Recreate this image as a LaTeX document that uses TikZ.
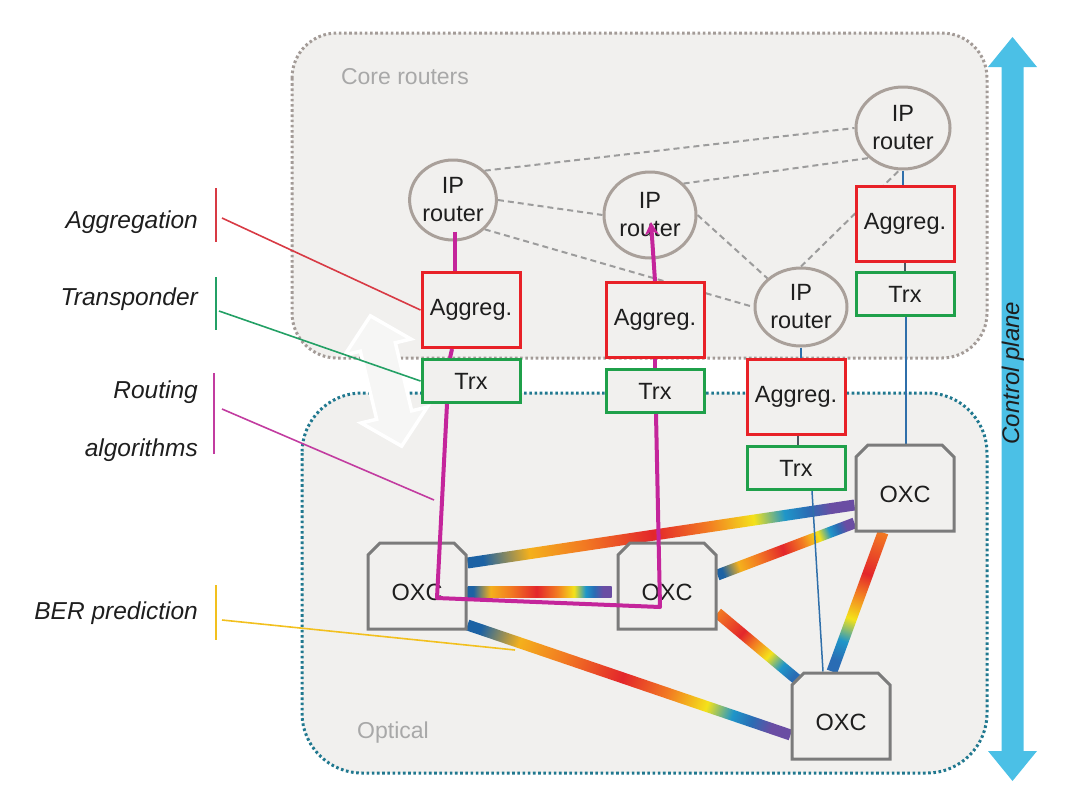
\documentclass[tikz,border=0pt]{standalone}
\usepackage{fontspec}
\setmainfont{Liberation Sans}
\usetikzlibrary{calc,shapes.geometric,shapes.misc,arrows.meta}
\pgfdeclarelayer{bg}
\pgfdeclarelayer{links}
\pgfdeclarelayer{front}
\pgfsetlayers{bg,links,main,front}

\definecolor{panel}{HTML}{F1F0EE}
\definecolor{coreline}{HTML}{A39B97}
\definecolor{optline}{HTML}{20788F}
\definecolor{routerline}{HTML}{A9A09A}
\definecolor{aggred}{HTML}{E82127}
\definecolor{trxgreen}{HTML}{1FA04A}
\definecolor{oxcgray}{HTML}{7B7B7B}
\definecolor{routec}{HTML}{C4259B}
\definecolor{thinblue}{HTML}{2F6FAA}
\definecolor{thingray}{HTML}{4A5560}
\definecolor{dashgray}{HTML}{9C9C9C}
\definecolor{labgray}{HTML}{A8A8A8}
\definecolor{cpblue}{HTML}{4BC0E6}
\definecolor{ptred}{HTML}{D83A44}
\definecolor{ptgreen}{HTML}{23A065}
\definecolor{ptmag}{HTML}{C23CA0}
\definecolor{ptyel}{HTML}{F2C01E}
\definecolor{txt}{HTML}{1E1E1E}
\definecolor{arrowfill}{HTML}{F6F6F5}
\definecolor{rbBlue}{HTML}{1C62A4}
\definecolor{rbYO}{HTML}{F4B01C}
\definecolor{rbOr}{HTML}{F27A22}
\definecolor{rbRed}{HTML}{E3262B}
\definecolor{rbYe}{HTML}{F4E21A}
\definecolor{rbTeal}{HTML}{1F96C9}
\definecolor{rbBlue2}{HTML}{2A6CB4}
\definecolor{rbViolet}{HTML}{6A4DA3}

\pgfdeclarehorizontalshading{rbfull}{100bp}{color(0bp)=(rbBlue); color(27bp)=(rbBlue); color(33bp)=(rbYO); color(40bp)=(rbOr); color(49bp)=(rbRed); color(56bp)=(rbOr); color(62bp)=(rbYe); color(66bp)=(rbTeal); color(69bp)=(rbBlue2); color(72bp)=(rbViolet); color(100bp)=(rbViolet)}
\pgfdeclarehorizontalshading{rbmid}{100bp}{color(0bp)=(rbOr); color(25bp)=(rbOr); color(40bp)=(rbRed); color(47bp)=(rbOr); color(56bp)=(rbYe); color(64bp)=(rbTeal); color(71bp)=(rbBlue2); color(100bp)=(rbBlue2)}

\newcommand\rainbowlink[3]{%
  \path let \p1=($(#3)-(#2)$) in \pgfextra{%
    \pgfmathsetmacro\rbA{atan2(\y1,\x1)}%
    \pgfmathsetmacro\rbL{veclen(\x1,\y1)}%
    \global\let\rbAng\rbA
    \global\let\rbLen\rbL};
  \begin{scope}[transform canvas={shift={(#2)},rotate=\rbAng}]
    \shade[shading=#1] (0pt,-5.5pt) rectangle (\rbLen pt,5.5pt);
  \end{scope}}
\newcommand\oxctext{\raisebox{-6pt}[17pt][0pt]{OXC}}

\begin{document}
\begin{tikzpicture}[x=1pt,y=-1pt,
  base/.style={font=\fontsize{23.5}{28}\selectfont, text=txt, inner sep=0pt},
  router/.style={base, ellipse, draw=routerline, line width=3pt, fill=panel, align=center},
  aggbox/.style={base, rectangle, draw=aggred, line width=3pt, fill=panel, minimum width=98pt, minimum height=75pt},
  trxbox/.style={base, rectangle, draw=trxgreen, line width=3pt, fill=panel, minimum width=98pt, minimum height=43pt},
  oxc/.style={base, chamfered rectangle, chamfered rectangle corners={north west,north east}, chamfered rectangle xsep=14pt, draw=oxcgray, line width=3pt, fill=panel, minimum width=98pt, minimum height=86pt},
  dashlink/.style={draw=dashgray, line width=2pt, dash pattern=on 6pt off 4pt},
  thinlink/.style={draw=thinblue, line width=1.5pt},
  route/.style={draw=routec, line width=4pt, line join=round},
  lab/.style={font=\itshape\fontsize{24.5}{58}\selectfont, text=txt, inner sep=0pt, anchor=east, align=right},
  panellab/.style={font=\fontsize{23}{28}\selectfont, text=labgray, inner sep=0pt},
  pointer/.style={line width=1.6pt},
  bar/.style={line width=2pt}
]
\useasboundingbox (0,0) rectangle (1076,801);

% ---------- nodes ----------
\node[router, minimum width=86pt, minimum height=80pt] (R1) at (453,200) {IP\\router};
\node[router, minimum width=92pt, minimum height=86pt] (R2) at (650,215) {IP\\router};
\node[router, minimum width=94pt, minimum height=82pt] (R3) at (903,128) {IP\\router};
\node[router, minimum width=92pt, minimum height=78pt] (R4) at (801,307) {IP\\router};

\node[aggbox] (A1) at (471,310) {Aggreg.};
\node[trxbox] (T1) at (471,381) {Trx};
\node[aggbox] (A2) at (655,320) {Aggreg.};
\node[trxbox] (T2) at (655,391) {Trx};
\node[aggbox] (A3) at (905,224) {Aggreg.};
\node[trxbox] (T3) at (905,294) {Trx};
\node[aggbox] (A4) at (796,397) {Aggreg.};
\node[trxbox] (T4) at (796,468) {Trx};

\node[oxc] (O1) at (417,586) {\oxctext};
\node[oxc] (O2) at (667,586) {\oxctext};
\node[oxc] (O3) at (905,488) {\oxctext};
\node[oxc] (O4) at (841,716) {\oxctext};

% left labels
\node[lab] (LA) at (198,222) {Aggregation};
\node[lab] (LT) at (198,299) {Transponder};
\node[lab] (LR) at (198,421) {Routing\\algorithms};
\node[lab] (LB) at (198,613) {BER prediction};

% ---------- background ----------
\begin{pgfonlayer}{bg}
  \fill[panel, rounded corners=45pt] (292,33) rectangle (987,358);
  \fill[panel, rounded corners=60pt] (302,393) rectangle (987,773);
  \draw[coreline, line width=3pt, dash pattern=on 2.6pt off 2.6pt, rounded corners=45pt] (292,33) rectangle (987,358);
  \draw[optline, line width=3pt, dash pattern=on 2.6pt off 2.6pt, rounded corners=60pt] (302,393) rectangle (987,773);
  \node[panellab] (CR) at (405,77) {Core routers};
  \node[panellab] (OP) at (393,733) {Optical};
  % white double arrow between the layers
  \begin{scope}[shift={(386,381)}, rotate=13.5]
    \draw[white, line width=3.5pt, fill=arrowfill, line join=miter]
      (0,-67) -- (34,-35) -- (18,-35) -- (18,35) -- (34,35) -- (0,67)
      -- (-34,35) -- (-18,35) -- (-18,-35) -- (-34,-35) -- cycle;
  \end{scope}
  % control plane arrow
  \fill[cpblue] (1012.5,37) -- (1037,67) -- (1023.5,67) -- (1023.5,751) -- (1037,751)
     -- (1012.5,781) -- (988,751) -- (1001.5,751) -- (1001.5,67) -- (988,67) -- cycle;
  \node[font=\itshape\fontsize{24}{28}\selectfont, text=txt, rotate=90, inner sep=0pt] (CP) at (1013,373) {Control plane};
\end{pgfonlayer}

% ---------- links ----------
\begin{pgfonlayer}{links}
  % dashed IP links
  \draw[dashlink] (R1.north east) -- (R3.west);
  \draw[dashlink] (R1.east) -- (R2.west);
  \draw[dashlink] (R1.south east) -- (R4.west);
  \draw[dashlink] (R2.north east) -- (R3.south west);
  \draw[dashlink] (R2.east) -- (R4.north west);
  \draw[dashlink] (R4.north) -- ([xshift=-4pt]R3.south);

  % rainbow optical links
  \coordinate (l1a) at ([yshift=23pt]O1.east);
  \coordinate (l1b) at ([yshift=-17pt]O3.west);
  \coordinate (l2a) at ([yshift=-6pt]O1.east);
  \coordinate (l2b) at ([xshift=-5pt,yshift=-6pt]O2.west);
  \coordinate (l3a) at ([yshift=-39pt]O1.east);
  \coordinate (l3b) at ([yshift=-19pt]O4.west);
  \coordinate (l4a) at ([yshift=11pt]O2.east);
  \coordinate (l4b) at ([yshift=-35pt]O3.west);
  \coordinate (l5a) at ([yshift=-27pt]O2.east);
  \coordinate (l5b) at ($(O4.center)+(-41,-34)$);
  \coordinate (l6a) at ([xshift=-22pt]O3.south);
  \coordinate (l6b) at ([xshift=-9pt]O4.north);
  \rainbowlink{rbfull}{l1a}{l1b}
  \rainbowlink{rbfull}{l2a}{l2b}
  \rainbowlink{rbfull}{l3a}{l3b}
  \rainbowlink{rbfull}{l4a}{l4b}
  \rainbowlink{rbmid}{l5a}{l5b}
  \rainbowlink{rbmid}{l6a}{l6b}

  % thin vertical connections
  \draw[thinlink] (R3.south) -- (R3.south |- A3.north);
  \draw[thingray, line width=1.5pt] (A3.south) -- (T3.north);
  \draw[thinlink] ([xshift=1pt]T3.south) -- ([xshift=1pt]T3.south |- O3.north);
  \draw[thinlink] (R4.south) -- (R4.south |- A4.north);
  \draw[thingray, line width=1.5pt] ([xshift=2pt]A4.south) -- ([xshift=2pt]T4.north);
  \draw[thinlink] ([xshift=16pt]T4.south) -- ([xshift=-18pt]O4.north);

  % label bars and pointers
  \draw[ptred, bar] (216,188) -- (216,242);
  \draw[ptgreen, bar] (216,277) -- (216,330);
  \draw[ptmag, bar] (214,373) -- (214,454);
  \draw[ptyel, bar] (216,585) -- (216,640);
  \coordinate (pa) at (222,218);
  \coordinate (pt) at (219,311);
  \coordinate (pr) at (222,409);
  \coordinate (pr2) at (434,500);
  \coordinate (pb) at (222,620);
  \coordinate (pb2) at (515,650);
  \draw[ptred, pointer] (pa) -- (A1.west);
  \draw[ptgreen, pointer] (pt) -- (T1.west);
  \draw[ptmag, pointer] (pr) -- (pr2);
  \draw[ptyel, pointer] (pb) -- (pb2);
\end{pgfonlayer}

% ---------- routed lightpath ----------
\begin{pgfonlayer}{front}
  \coordinate (m1) at (437,598);
  \coordinate (m2) at (660,607);
  \draw[route] ([xshift=2pt,yshift=10pt]R1.south) -- ([xshift=-16pt]A1.north);
  \draw[route] ([xshift=-19pt]A1.south) -- ([xshift=-21pt]T1.north);
  \draw[route] ([xshift=-24pt]T1.south) -- (m1) -- (m2) -- ([xshift=1pt]T2.south);
  \draw[route] (A2.south) -- (T2.north);
  \draw[route, -{Stealth[length=13pt,width=14pt]}] (A2.north) -- ([xshift=1pt,yshift=-7pt]R2.center);
\end{pgfonlayer}
\end{tikzpicture}
\end{document}
